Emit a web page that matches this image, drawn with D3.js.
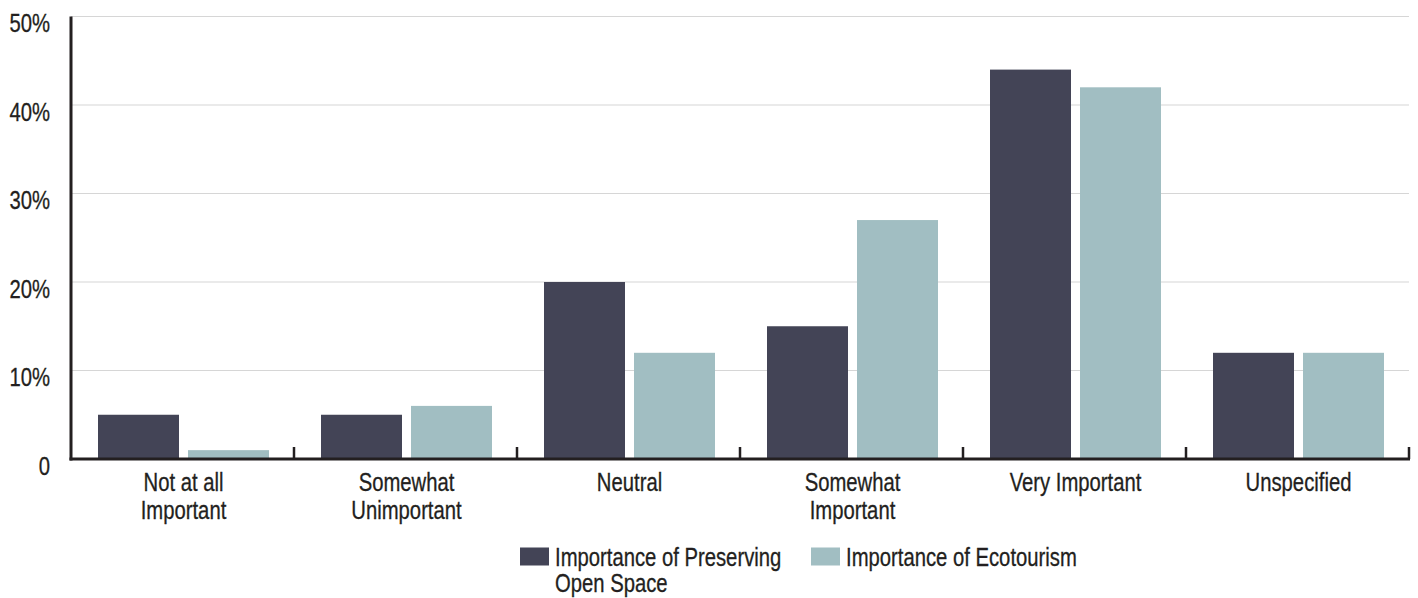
<!DOCTYPE html>
<html><head><meta charset="utf-8">
<script src="https://cdn.jsdelivr.net/npm/d3@7"></script>
<style>
body{margin:0;background:#fff;}
text{font-family:"Liberation Sans",Arial,sans-serif;fill:#231f20;stroke:#231f20;stroke-width:0.3px;}
</style></head><body>
<svg id="c" width="1418" height="598"></svg>
<script>
const categories = [["Not at all","Important"],["Somewhat","Unimportant"],["Neutral"],["Somewhat","Important"],["Very Important"],["Unspecified"]];
const seriesNames = [["Importance of Preserving","Open Space"],["Importance of Ecotourism"]];
const openSpace = [5,5,20,15,44,12];
const ecotourism = [1,6,12,27,42,12];
const yTicks = [0,10,20,30,40,50];
const yTickLabels = ["0","10%","20%","30%","40%","50%"];
const colors = ["#434456","#a1bec2"];

(function(){
const svg = d3.select("#c");
const mLeft=71, mRight=1409, mTop=16.5, mBottom=459;
const K = 0.795, FS = 25.5;
const x = d3.scaleBand().domain(d3.range(categories.length)).range([mLeft,mRight]).paddingInner(0).paddingOuter(0);
const y = d3.scaleLinear().domain([0,50]).range([mBottom,mTop]);
const bw = x.bandwidth();
const barW = 81, gap = 9;
const groupW = barW*2+gap;

function label(parent, tx, ty, lines, anchor, lh){
  const g = parent.append("g").attr("transform",`translate(${tx},${ty}) scale(${K},1)`);
  const t = g.append("text").attr("text-anchor",anchor).attr("font-size",FS);
  lines.forEach((s,j)=>t.append("tspan").attr("x",0).attr("y",j*lh).text(s));
  return g;
}

svg.append("g").selectAll("line").data(yTicks.slice(1)).join("line")
  .attr("x1",mLeft).attr("x2",mRight).attr("y1",d=>y(d)).attr("y2",d=>y(d))
  .attr("stroke","#d6d6d6").attr("stroke-width",1.2);

const series=[openSpace,ecotourism];
series.forEach((vals,si)=>{
  svg.append("g").selectAll("rect").data(vals).join("rect")
    .attr("x",(d,i)=>x(i)+(bw-groupW)/2+1+si*(barW+gap))
    .attr("width",barW)
    .attr("y",d=>y(d))
    .attr("height",d=>mBottom-y(d))
    .attr("fill",colors[si]);
});

svg.append("line").attr("x1",mLeft).attr("x2",mLeft).attr("y1",mTop).attr("y2",mBottom+1.5)
  .attr("stroke","#231f20").attr("stroke-width",3);
svg.append("line").attr("x1",mLeft-1.5).attr("x2",mRight+1).attr("y1",mBottom).attr("y2",mBottom)
  .attr("stroke","#231f20").attr("stroke-width",3);
const bounds = d3.range(1,categories.length+1).map(i=> i<categories.length? x(i): mRight);
svg.append("g").selectAll("line").data(bounds).join("line")
  .attr("x1",d=>d).attr("x2",d=>d).attr("y1",mBottom).attr("y2",mBottom-12)
  .attr("stroke","#231f20").attr("stroke-width",2.5);

const yl = svg.append("g");
yTicks.forEach((d,i)=>label(yl, 50, y(d)+15.5, [yTickLabels[i]], "end", 0));

const cl = svg.append("g");
categories.forEach((c,i)=>label(cl, x(i)+bw/2+1, 491, c, "middle", 28));

const legX=[520,811];
const lg = svg.append("g");
seriesNames.forEach((nm,i)=>{
  lg.append("rect").attr("x",legX[i]).attr("y",547.5).attr("width",29).attr("height",18).attr("fill",colors[i]);
  label(lg, legX[i]+35, 566, nm, "start", 26.5);
});
})();
</script></body></html>
